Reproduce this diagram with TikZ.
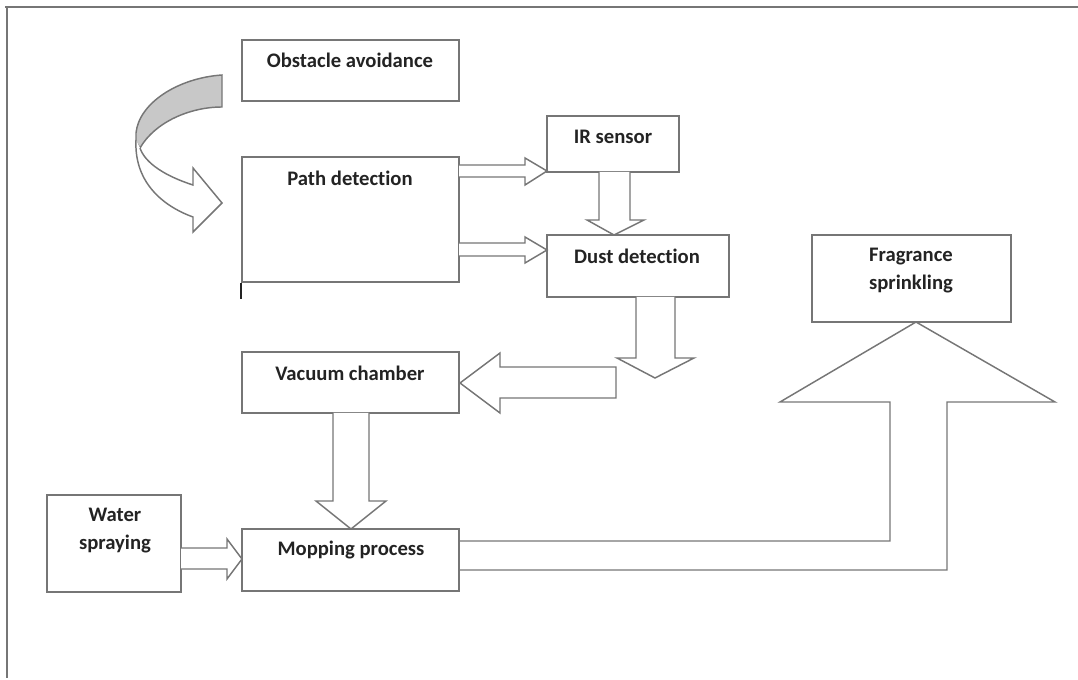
\documentclass[tikz,border=0pt]{standalone}
\usepackage{fontspec}
\setmainfont{Carlito}[Ligatures=NoCommon]
\usetikzlibrary{fit}
\definecolor{ln}{RGB}{118,118,118}
\definecolor{tx}{RGB}{35,35,35}
\definecolor{gfill}{RGB}{200,200,200}
\begin{document}
\begin{tikzpicture}[x=0.75pt,y=-0.75pt,
  box/.style={draw=ln, line width=1.1pt, inner sep=0pt},
  txt/.style={text=tx, font=\bfseries\fontsize{15.5}{21}\selectfont, align=center, inner sep=0pt},
  blk/.style={draw=ln, line width=1.1pt, fill=white, line join=miter}]
\useasboundingbox (0,0) rectangle (1078,680);
\draw[ln, line width=1pt] (5,7) -- (1078,7);
\draw[ln, line width=1pt] (7,7) -- (7,678);

% boxes
\node[box, fit={(242,40) (459,101)}] (obs) {};
\node[txt] (obst) at (350,60) {Obstacle avoidance};
\node[box, fit={(242,157) (459,282)}] (path) {};
\node[txt] (patht) at (350,178) {Path detection};
\draw[tx, line width=1.8pt] (path.south west) -- ++(0,16);
\node[box, fit={(547,116) (679,172)}] (ir) {};
\node[txt] (irt) at (613,137) {IR sensor};
\node[box, fit={(547,235) (729,297)}] (dust) {};
\node[txt] (dustt) at (637,256) {Dust detection};
\node[box, fit={(812,235) (1011,322)}] (frag) {};
\node[txt] (fragt) at (911,271) {Fragrance\\sprinkling};
\node[box, fit={(242,352) (459,413)}] (vac) {};
\node[txt] (vact) at (350,373) {Vacuum chamber};
\node[box, fit={(242,529) (459,591)}] (mop) {};
\node[txt] (mopt) at (351,550) {Mopping process};
\node[box, fit={(47,495) (181,592)}] (water) {};
\node[txt] (watert) at (115,531) {Water\\spraying};

% curved arrow
\filldraw[blk, fill=gfill] (222,75) .. controls (178,78) and (139,103) .. (136,133)
  -- (136,142) -- (140,148) .. controls (155,122) and (190,107) .. (222,107) -- cycle;
\draw[blk] (136,140) .. controls (134,180) and (160,205) .. (193,217) -- (193,232) -- (222,203)
  -- (193,168) -- (193,185) .. controls (165,176) and (145,163) .. (140,148);

% block arrows
\draw[blk] (459,165) -- (525,165) -- (525,158) -- (547,171) -- (525,185) -- (525,177) -- (459,177);
\draw[blk] (459,243) -- (525,243) -- (525,237) -- (547,250) -- (525,263) -- (525,256) -- (459,256);
\draw[blk] (599,172) -- (599,220) -- (587,220) -- (614,235) -- (644,220) -- (630,220) -- (630,172);
\draw[blk] (636,297) -- (636,358) -- (617,358) -- (655,378) -- (694,358) -- (675,358) -- (675,297);
\draw[blk] (616,367) -- (500,367) -- (500,353) -- (460,383) -- (500,413) -- (500,398) -- (616,398) -- cycle;
\draw[blk] (333,413) -- (333,501) -- (316,501) -- (351,529) -- (386,501) -- (369,501) -- (369,413);
\draw[blk] (181,548) -- (227,548) -- (227,539) -- (242,559) -- (227,579) -- (227,569) -- (181,569);
\draw[blk, fill=none] (460,541) -- (890,541) -- (890,402) -- (780,402) -- (916,322) -- (1055,402)
  -- (947,402) -- (947,570) -- (460,570);
\end{tikzpicture}
\end{document}
